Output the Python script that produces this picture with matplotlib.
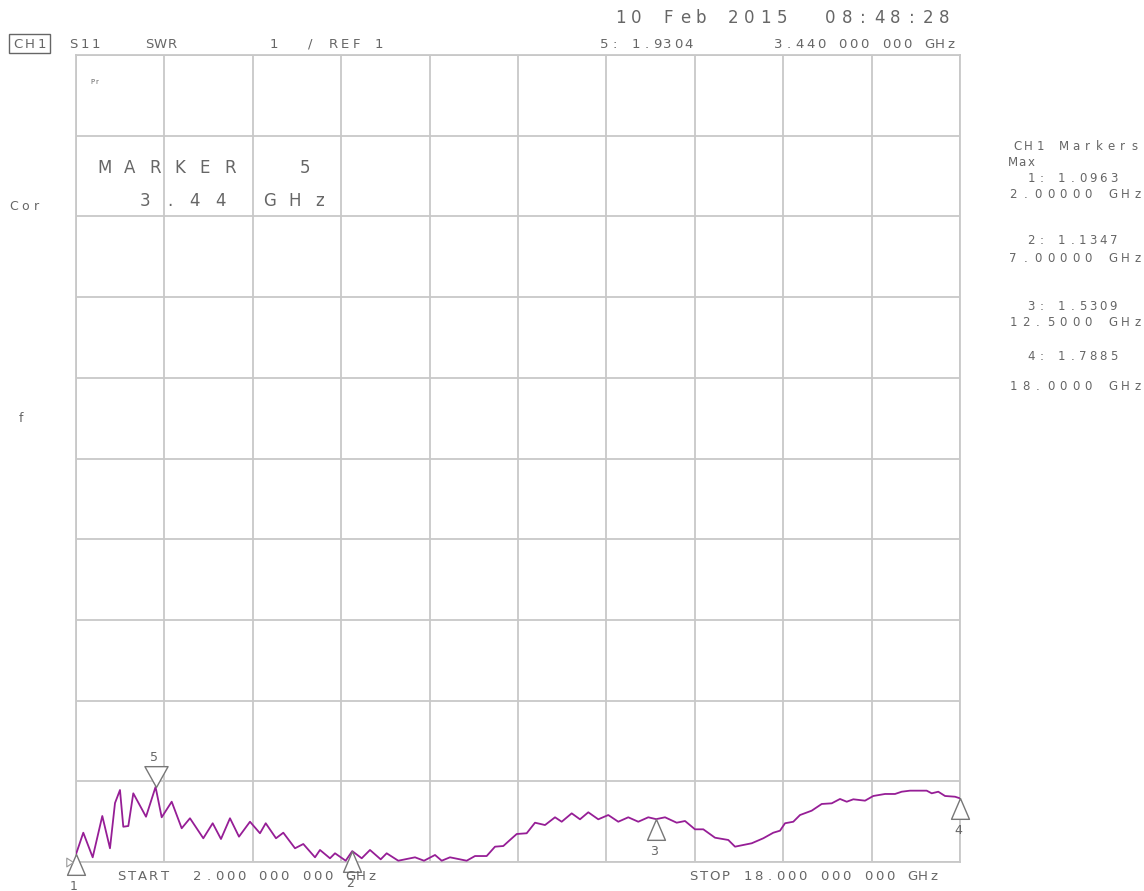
import numpy as np
import matplotlib
matplotlib.use("Agg")
import matplotlib.pyplot as plt
from matplotlib.patches import Rectangle

# S11 SWR trace
freq_ghz = [2.000, 2.132, 2.302, 2.476, 2.615, 2.706, 2.796, 2.856, 2.947, 3.037,
            3.267, 3.440, 3.551, 3.732, 3.913, 4.063, 4.304, 4.474, 4.624, 4.787,
            4.950, 5.149, 5.330, 5.434, 5.620, 5.752, 5.964, 6.114, 6.326, 6.416,
            6.597, 6.688, 6.881, 7.000, 7.171, 7.321, 7.515, 7.623, 7.833, 8.136,
            8.299, 8.498, 8.619, 8.769, 9.071, 9.222, 9.433, 9.584, 9.734, 9.855,
            9.977, 10.157, 10.308, 10.489, 10.670, 10.791, 10.972, 11.122, 11.272, 11.453,
            11.634, 11.815, 11.996, 12.177, 12.358, 12.500, 12.661, 12.872, 13.023, 13.204,
            13.354, 13.566, 13.806, 13.928, 14.230, 14.440, 14.621, 14.742, 14.833, 14.983,
            15.104, 15.316, 15.497, 15.678, 15.828, 15.950, 16.069, 16.281, 16.430, 16.643,
            16.824, 16.945, 17.095, 17.397, 17.488, 17.607, 17.729, 17.910, 18.000]
swr = [1.096, 1.363, 1.058, 1.570, 1.170, 1.731, 1.892, 1.437, 1.446, 1.851,
       1.561, 1.930, 1.554, 1.747, 1.418, 1.542, 1.294, 1.480, 1.285, 1.542,
       1.314, 1.499, 1.356, 1.480, 1.294, 1.363, 1.170, 1.223, 1.058, 1.149,
       1.046, 1.108, 1.016, 1.135, 1.046, 1.149, 1.033, 1.108, 1.016, 1.058,
       1.016, 1.087, 1.016, 1.058, 1.016, 1.074, 1.074, 1.190, 1.198, 1.273,
       1.347, 1.356, 1.487, 1.458, 1.554, 1.499, 1.603, 1.529, 1.616, 1.529,
       1.582, 1.499, 1.554, 1.499, 1.554, 1.531, 1.554, 1.487, 1.508, 1.405,
       1.405, 1.301, 1.273, 1.190, 1.232, 1.294, 1.363, 1.388, 1.480, 1.499,
       1.582, 1.636, 1.719, 1.727, 1.781, 1.747, 1.777, 1.760, 1.818, 1.843,
       1.843, 1.871, 1.884, 1.884, 1.851, 1.871, 1.818, 1.809, 1.789]

marker_ids = ["1", "2", "3", "4", "5"]
marker_freq = [2.0, 7.0, 12.5, 18.0, 3.44]
marker_swr = [1.0963, 1.1347, 1.5309, 1.7885, 1.9304]

W, H = 1144, 891
TXT = "#666666"
GRID = "#c8c8c8"
TRACE = "#961e96"

fig = plt.figure(figsize=(W / 100, H / 100), dpi=100)
ax = fig.add_axes([76 / W, 1 - 862 / H, 884 / W, 807 / H])
ax.set_xlim(2, 18)
ax.set_ylim(1, 11)
ax.set_xticks(np.linspace(2, 18, 11))
ax.set_yticks(np.arange(1, 12))
ax.tick_params(length=0, labelbottom=False, labelleft=False)
ax.grid(color=GRID, lw=1.3)
ax.set_axisbelow(True)
for s in ax.spines.values():
    s.set_color(GRID)
    s.set_linewidth(1.3)

ax.plot(freq_ghz, swr, color=TRACE, lw=1.3, zorder=3)

# marker triangles: apex on the trace
up_tri = [(0, 0), (-0.43, -1), (0.43, -1), (0, 0)]
down_tri = [(0, 0), (-0.5, 0.9), (0.5, 0.9), (0, 0)]
for mid, f, v in zip(marker_ids, marker_freq, marker_swr):
    if mid == "5":
        ax.plot(f, v, marker=down_tri, ms=30, mfc="white", mec="#777777", mew=1,
                clip_on=False, zorder=4)
        ax.annotate(mid, (f, v), xytext=(-2, 29), textcoords="offset pixels",
                    ha="center", va="center", fontsize=9, color=TXT)
    else:
        ax.plot(f, v, marker=up_tri, ms=30, mfc="white", mec="#777777", mew=1,
                clip_on=False, zorder=4)
        ax.annotate(mid, (f, v), xytext=(-2, -32), textcoords="offset pixels",
                    ha="center", va="center", fontsize=9, color=TXT)

# reference level pointer at the left edge
ax.plot(2, 1, marker=[(-0.3, 0), (-1, 0.45), (-1, -0.45), (-0.3, 0)], ms=14,
        mfc="white", mec="#999999", mew=0.8, clip_on=False, zorder=4)


def put(x, y, s, pitch, size=9.5):
    # instrument style text: fixed character pitch in screen pixels
    for i, ch in enumerate(s):
        if ch != " ":
            fig.text((x + i * pitch) / W, 1 - y / H, ch, ha="center", va="center",
                     fontsize=size, color=TXT)


put(620, 18, "10 Feb 2015  08:48:28", 16.2, size=12)

put(18, 44, "CH1", 12)
fig.patches.append(Rectangle((9 / W, 1 - 53 / H), 41 / W, 19 / H, fill=False,
                             ec=TXT, lw=1, transform=fig.transFigure))
put(73, 44, "S11", 11.5)
put(149, 44, "SWR", 11.5)
put(274, 44, "1", 11.5)
put(310, 44, "/ REF 1", 11.5)
put(604, 44, "5: 1.9304", 10.6)
put(778, 44, "3.440 000 000 GHz", 10.8)

put(92, 82, "Pr", 5, size=5)
put(105, 168, "MARKER  5", 25, size=12)
put(145, 201, "3.44 GHz", 25, size=12)

put(14, 207, "Cor", 11, size=9)
put(21, 418, "f", 11, size=9)

put(1017, 146, "CH1 Markers", 11.7, size=8.5)
put(1013, 162, "Max", 9, size=8.5)
put(1031, 178, "1: 1.0963", 10.3, size=8.5)
put(1013, 195, "2.00000 GHz", 12.5, size=8.5)
put(1031, 241, "2: 1.1347", 10.3, size=8.5)
put(1013, 259, "7.00000 GHz", 12.5, size=8.5)
put(1031, 306, "3: 1.5309", 10.3, size=8.5)
put(1013, 322, "12.5000 GHz", 12.5, size=8.5)
put(1031, 356, "4: 1.7885", 10.3, size=8.5)
put(1013, 387, "18.0000 GHz", 12.5, size=8.5)

put(121, 877, "START  2.000 000 000 GHz", 10.9)
put(693, 877, "STOP 18.000 000 000 GHz", 10.95)

fig.savefig("out.png", dpi=100)
